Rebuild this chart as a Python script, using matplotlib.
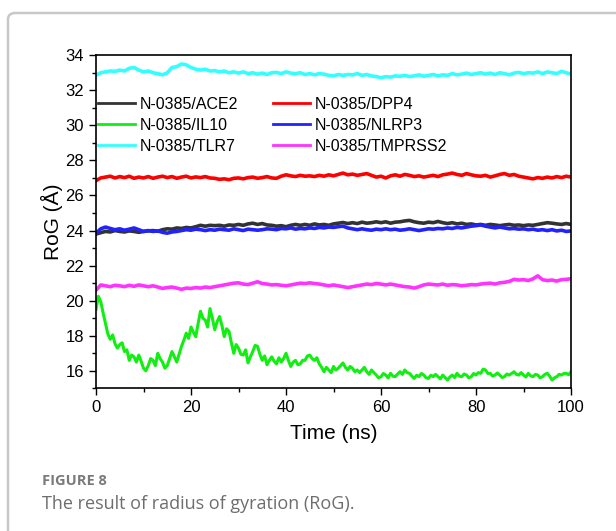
import matplotlib.pyplot as plt
from matplotlib.patches import FancyBboxPatch
from matplotlib.ticker import MultipleLocator

plt.rcParams['font.family'] = ['Liberation Sans', 'DejaVu Sans']

time_ns = list(range(0, 101))
time_half_ns = [i / 2 for i in range(0, 201)]

ace2 = [23.80, 23.88, 23.95, 23.92, 24.00, 23.95, 23.92, 23.98, 23.95, 23.90,
        23.95, 23.98, 24.00, 23.96, 24.05, 24.10, 24.08, 24.15, 24.12, 24.18,
        24.15, 24.22, 24.30, 24.25, 24.30, 24.28, 24.30, 24.25, 24.32, 24.30,
        24.35, 24.30, 24.38, 24.42, 24.35, 24.40, 24.32, 24.30, 24.25, 24.28,
        24.22, 24.30, 24.35, 24.30, 24.35, 24.30, 24.38, 24.32, 24.35, 24.30,
        24.38, 24.42, 24.46, 24.40, 24.45, 24.40, 24.48, 24.42, 24.45, 24.50,
        24.45, 24.50, 24.42, 24.48, 24.50, 24.55, 24.58, 24.50, 24.45, 24.42,
        24.48, 24.45, 24.52, 24.45, 24.40, 24.45, 24.38, 24.42, 24.35, 24.38,
        24.32, 24.35, 24.30, 24.35, 24.32, 24.28, 24.32, 24.35, 24.30, 24.32,
        24.28, 24.32, 24.30, 24.35, 24.40, 24.45, 24.42, 24.38, 24.35, 24.40,
        24.35]

dpp4 = [26.85, 27.00, 27.05, 27.10, 27.00, 27.08, 27.02, 27.10, 26.98, 27.05,
        27.00, 27.08, 26.98, 27.05, 27.10, 27.02, 27.08, 26.98, 27.05, 27.10,
        27.00, 27.06, 27.02, 27.08, 27.00, 26.98, 26.92, 26.95, 26.90, 26.98,
        27.00, 26.95, 27.02, 27.05, 26.98, 27.02, 27.08, 27.00, 26.98, 27.10,
        27.18, 27.12, 27.08, 27.15, 27.10, 27.12, 27.08, 27.15, 27.10, 27.18,
        27.12, 27.20, 27.28, 27.18, 27.22, 27.15, 27.20, 27.25, 27.15, 27.05,
        27.10, 27.00, 27.12, 27.18, 27.10, 27.20, 27.15, 27.08, 27.12, 27.05,
        27.10, 27.15, 27.08, 27.18, 27.22, 27.28, 27.20, 27.15, 27.25, 27.18,
        27.12, 27.10, 27.15, 27.05, 27.12, 27.20, 27.25, 27.15, 27.20, 27.10,
        27.05, 27.00, 26.95, 27.02, 26.98, 27.05, 27.00, 27.08, 27.02, 27.10,
        27.05]

# IL10 read every 0.5 ns (noisier trace)
il10 = [19.50, 20.25, 19.95, 19.30, 18.70, 18.10, 17.80, 18.05, 17.55, 17.30,
        17.50, 17.60, 17.10, 17.20, 16.60, 16.90, 16.80, 16.50, 16.90, 16.55,
        16.15, 16.00, 16.30, 16.70, 16.60, 16.30, 17.00, 16.70, 16.50, 16.15,
        16.30, 16.70, 17.10, 16.80, 16.50, 16.95, 17.40, 17.75, 18.15, 17.85,
        18.50, 18.20, 17.95, 18.70, 19.40, 19.00, 18.90, 18.50, 19.55, 19.00,
        18.35, 18.80, 19.10, 18.60, 17.95, 18.40, 18.25, 17.60, 17.00, 17.50,
        17.30, 16.95, 16.90, 17.20, 16.45, 16.80, 17.10, 17.45, 17.40, 16.95,
        16.60, 16.85, 16.35, 16.60, 16.80, 16.55, 16.40, 16.75, 16.50, 16.70,
        17.00, 16.60, 16.25, 16.50, 16.60, 16.35, 16.40, 16.60, 16.60, 16.85,
        16.90, 16.70, 16.60, 16.75, 16.40, 16.20, 15.95, 16.20, 16.05, 15.90,
        16.25, 16.05, 16.15, 16.30, 16.45, 16.20, 16.05, 16.25, 16.15, 15.95,
        16.05, 15.90, 16.05, 16.20, 15.95, 15.80, 16.05, 15.90, 15.76, 15.60,
        15.67, 15.85, 15.76, 15.60, 15.86, 15.70, 15.67, 15.82, 15.95, 15.80,
        16.05, 15.90, 15.86, 15.70, 15.57, 15.75, 15.67, 15.85, 15.76, 15.60,
        15.57, 15.75, 15.67, 15.80, 15.67, 15.55, 15.76, 15.62, 15.48, 15.65,
        15.76, 15.62, 15.86, 15.70, 15.67, 15.82, 15.76, 15.60, 15.67, 15.85,
        15.76, 15.90, 15.86, 16.10, 16.05, 15.85, 15.86, 15.70, 15.76, 15.88,
        15.76, 15.62, 15.67, 15.82, 15.76, 15.85, 15.95, 15.80, 15.76, 15.90,
        15.76, 15.65, 15.86, 15.72, 15.67, 15.80, 15.76, 15.60, 15.67, 15.80,
        15.86, 15.70, 15.48, 15.60, 15.67, 15.80, 15.76, 15.85, 15.86, 15.78,
        15.95]

nlrp3 = [23.85, 24.10, 24.20, 24.12, 24.05, 24.10, 24.02, 24.08, 24.15, 24.05,
         23.95, 24.00, 23.95, 23.98, 23.90, 23.85, 23.92, 23.95, 24.00, 24.05,
         24.02, 24.08, 24.05, 24.00, 24.05, 24.02, 24.08, 24.05, 24.02, 24.10,
         24.05, 24.00, 24.08, 24.05, 24.02, 24.05, 24.10, 24.08, 24.05, 24.12,
         24.10, 24.15, 24.08, 24.12, 24.10, 24.15, 24.12, 24.18, 24.15, 24.20,
         24.18, 24.22, 24.25, 24.15, 24.10, 24.05, 24.10, 24.05, 24.02, 24.08,
         24.05, 24.10, 24.05, 24.08, 24.02, 24.05, 24.10, 24.05, 24.00, 24.05,
         24.10, 24.08, 24.12, 24.10, 24.15, 24.12, 24.18, 24.15, 24.20, 24.25,
         24.28, 24.32, 24.25, 24.20, 24.15, 24.20, 24.15, 24.10, 24.12, 24.08,
         24.10, 24.05, 24.08, 24.02, 24.05, 24.00, 24.05, 23.98, 24.02, 23.95,
         23.98]

tlr7 = [32.86, 33.00, 33.05, 33.10, 33.08, 33.15, 33.10, 33.25, 33.30, 33.15,
        33.05, 33.10, 33.00, 32.95, 32.88, 33.00, 33.30, 33.35, 33.50, 33.45,
        33.30, 33.20, 33.15, 33.20, 33.10, 33.12, 33.05, 33.10, 33.00, 33.05,
        32.98, 33.05, 32.95, 33.00, 32.92, 32.98, 32.90, 33.00, 33.02, 32.95,
        33.05, 32.98, 32.95, 33.00, 32.90, 32.95, 32.88, 32.95, 32.92, 32.85,
        32.82, 32.90, 32.85, 32.90, 32.88, 32.95, 32.85, 32.90, 32.82, 32.78,
        32.72, 32.78, 32.75, 32.82, 32.80, 32.85, 32.78, 32.82, 32.88, 32.80,
        32.85, 32.90, 32.82, 32.88, 32.85, 32.95, 32.88, 32.92, 32.98, 32.90,
        32.95, 33.00, 32.92, 32.98, 32.90, 33.00, 32.95, 32.88, 32.98, 33.02,
        32.95, 33.00, 32.98, 33.05, 32.95, 33.05, 33.00, 32.95, 33.08, 33.00,
        32.92]

tmprss2 = [20.60, 20.90, 20.85, 20.80, 20.88, 20.85, 20.80, 20.88, 20.82, 20.90,
           20.85, 20.80, 20.85, 20.78, 20.70, 20.75, 20.78, 20.72, 20.65, 20.72,
           20.70, 20.75, 20.72, 20.78, 20.75, 20.80, 20.85, 20.90, 20.95, 21.00,
           21.02, 20.95, 20.92, 21.00, 21.08, 20.98, 20.95, 20.90, 20.92, 20.88,
           20.85, 20.90, 20.95, 21.00, 20.98, 21.02, 20.98, 20.95, 20.90, 20.85,
           20.90, 20.85, 20.80, 20.75, 20.80, 20.85, 20.90, 20.95, 20.92, 20.98,
           20.95, 20.90, 20.95, 20.90, 20.85, 20.80, 20.78, 20.72, 20.80, 20.90,
           20.95, 20.92, 20.90, 20.95, 20.88, 20.92, 20.90, 20.85, 20.88, 20.92,
           20.90, 20.95, 20.98, 21.00, 20.95, 21.02, 21.05, 21.10, 21.22, 21.18,
           21.20, 21.15, 21.25, 21.42, 21.20, 21.15, 21.18, 21.12, 21.20, 21.22,
           21.25]

series = [
    ('N-0385/ACE2', time_ns, ace2, '#333333'),
    ('N-0385/DPP4', time_ns, dpp4, '#ff0000'),
    ('N-0385/IL10', time_half_ns, il10, '#11ee11'),
    ('N-0385/NLRP3', time_ns, nlrp3, '#2222ff'),
    ('N-0385/TLR7', time_ns, tlr7, '#33ffff'),
    ('N-0385/TMPRSS2', time_ns, tmprss2, '#ff33ff'),
]

fig = plt.figure(figsize=(6.16, 5.31), dpi=100)

# page frame (rounded corner top-left, runs off the image)
frame = FancyBboxPatch((8 / 616, -0.2), 1.2, 1.2 - 13 / 531,
                       boxstyle='round,pad=0,rounding_size=0.012',
                       transform=fig.transFigure, fill=False,
                       edgecolor='#c8c8c8', linewidth=1.8, clip_on=False)
fig.patches.append(frame)

ax = fig.add_axes([96 / 616, 1 - 388.4 / 531, 475 / 616, 333.2 / 531])

lines = {}
for name, t, vals, col in series:
    lw = 2.2 if name.endswith('IL10') else 2.6
    lines[name], = ax.plot(t, vals, color=col, linewidth=lw, label=name)

ax.set_xlim(0, 100)
ax.set_ylim(15, 34)
ax.xaxis.set_major_locator(MultipleLocator(20))
ax.xaxis.set_minor_locator(MultipleLocator(10))
ax.yaxis.set_major_locator(MultipleLocator(2))
ax.yaxis.set_minor_locator(MultipleLocator(1))
ax.tick_params(which='both', direction='out', top=False, right=False, labelsize=12, width=1.0)
ax.tick_params(which='major', length=5)
ax.tick_params(which='minor', length=3)
for s in ax.spines.values():
    s.set_linewidth(1.2)

ax.set_xlabel('Time (ns)', fontsize=15, labelpad=6)
ax.set_ylabel('RoG (Å)', fontsize=15, labelpad=2)

# legend fills row by row in the reference
order = ['N-0385/ACE2', 'N-0385/IL10', 'N-0385/TLR7',
         'N-0385/DPP4', 'N-0385/NLRP3', 'N-0385/TMPRSS2']
leg = ax.legend([lines[n] for n in order], order, ncol=2, loc='upper left',
                bbox_to_anchor=(0.005, 0.875), frameon=False,
                fontsize=11.5, handlelength=2.3, handletextpad=0.3, columnspacing=2.2,
                labelspacing=0.38, borderpad=0, borderaxespad=0)
for h in leg.get_lines():
    h.set_linewidth(2.0)

fig.text(42 / 616, 1 - 481 / 531, 'FIGURE 8', fontsize=10.5, fontweight='bold',
         color='#7a7a7a', family=['Open Sans', 'DejaVu Sans'], va='center')
fig.text(42 / 616, 1 - 504 / 531, 'The result of radius of gyration (RoG).',
         fontsize=13, color='#6e6e6e', family=['Open Sans', 'DejaVu Sans'], va='center')

fig.savefig('out.png', dpi=100)
